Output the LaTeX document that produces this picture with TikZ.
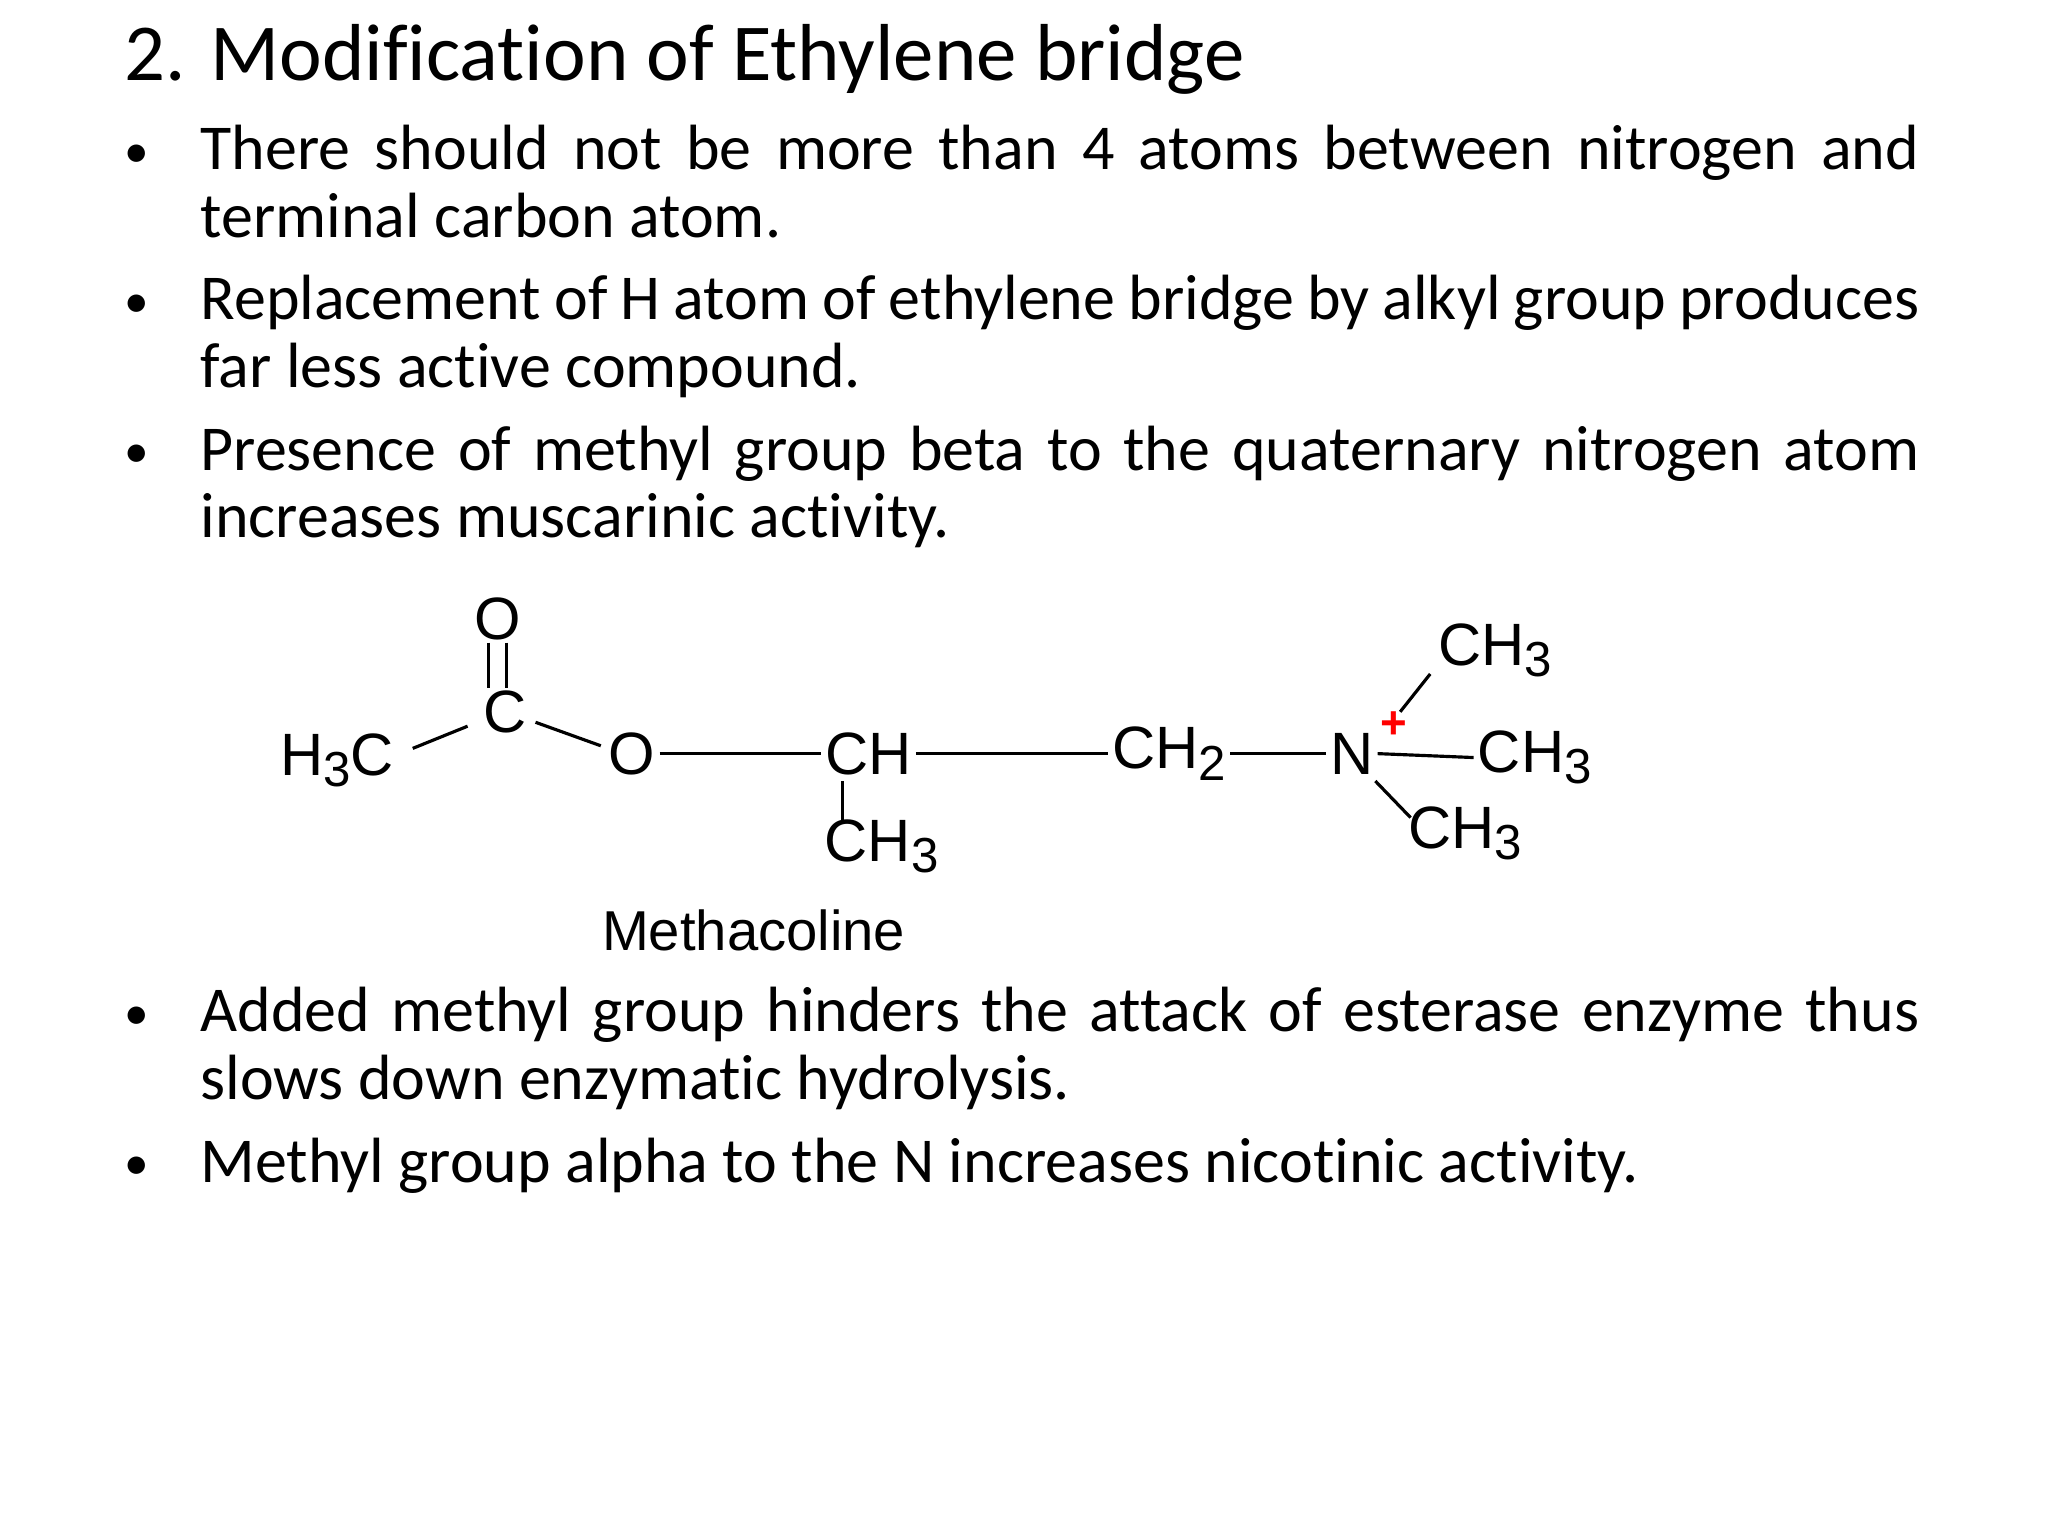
\documentclass[tikz,border=0pt]{standalone}
\usepackage{fontspec}
\setmainfont{Carlito}[Ligatures=NoCommon]
\newfontfamily\chemfont{Liberation Sans}
\newcommand{\sbs}[1]{\raisebox{-0.35ex}{\fontsize{14}{14}\selectfont #1}}
\newcommand{\nohy}{\hyphenpenalty=10000\relax\exhyphenpenalty=10000\relax}
\begin{document}
\begin{tikzpicture}[x=0.01306cm,y=-0.01306cm,
  para/.style={anchor=base west,text width=489pt,align=justify,inner sep=0pt,font={\fontsize{18.2}{19.2}\selectfont\nohy}},
  bul/.style={anchor=base west,inner sep=0pt,font=\fontsize{14}{19.2}\selectfont},
  ch/.style={inner sep=1pt,font=\chemfont\fontsize{17}{17}\selectfont},
  bond/.style={line width=0.9pt}]
\useasboundingbox[fill=white] (0,0) rectangle (1568,1176);
\node[anchor=base west,inner sep=0pt,font=\fontsize{23}{24}\selectfont] (title) at (95,62) {2. Modification of Ethylene bridge};
\node[bul] (b1) at (95,128) {•};
\node[para] (p1) at (153,130) {There should not be more than 4 atoms between nitrogen and terminal carbon atom.};
\node[bul] (b2) at (95,243) {•};
\node[para] (p2) at (153,245) {Replacement of H atom of ethylene bridge by alkyl group produces far less active compound.};
\node[bul] (b3) at (95,358) {•};
\node[para] (p3) at (153,360) {Presence of methyl group beta to the quaternary nitrogen atom increases muscarinic activity.};
\node[bul] (b4) at (95,788) {•};
\node[para] (p4) at (153,790) {Added methyl group hinders the attack of esterase enzyme thus slows down enzymatic hydrolysis.};
\node[bul] (b5) at (95,903) {•};
\node[para] (p5) at (153,905) {Methyl group alpha to the N increases nicotinic activity.};
% molecule
\node[ch] (h3c) at (258,582) {H\sbs{3}C};
\node[ch] (c) at (387,545) {C};
\node[ch] (o1) at (381,474) {O};
\node[ch] (o2) at (484,577) {O};
\node[ch] (chn) at (665,577) {CH};
\node[ch] (chm) at (675,648) {CH\sbs{3}};
\node[ch] (ch2) at (895,577) {CH\sbs{2}};
\node[ch] (n) at (1035,577) {N};
\node[text=red,inner sep=0pt,font=\chemfont\fontsize{13}{13}\selectfont\bfseries] (plus) at (1067,555) {+};
\node[ch] (m1) at (1145,498) {CH\sbs{3}};
\node[ch] (m2) at (1175,580) {CH\sbs{3}};
\node[ch] (m3) at (1122,638) {CH\sbs{3}};
\node[ch,font=\chemfont\fontsize{16}{16}\selectfont] (name) at (577,712) {Methacoline};
\coordinate (hc1) at (316,573); \coordinate (hc2) at (358,556);
\coordinate (d1a) at (374,492); \coordinate (d1b) at (374,527);
\coordinate (d2a) at (388,492); \coordinate (d2b) at (388,527);
\coordinate (co1) at (410,553); \coordinate (co2) at (460,571);
\coordinate (v1) at (645,598); \coordinate (v2) at (645,630);
\coordinate (t1) at (1072,545); \coordinate (t2) at (1095,516);
\coordinate (u1) at (1053,598); \coordinate (u2) at (1080,626);
\draw[bond] (hc1) -- (hc2);
\draw[bond] (d1a) -- (d1b);
\draw[bond] (d2a) -- (d2b);
\draw[bond] (co1) -- (co2);
\draw[bond] (o2.east) -- (chn.west);
\draw[bond] (chn.east) -- (ch2.west);
\draw[bond] (ch2.east) -- (n.west);
\draw[bond] (n.east) -- (m2.west);
\draw[bond] (v1) -- (v2);
\draw[bond] (t1) -- (t2);
\draw[bond] (u1) -- (u2);
\end{tikzpicture}
\end{document}
